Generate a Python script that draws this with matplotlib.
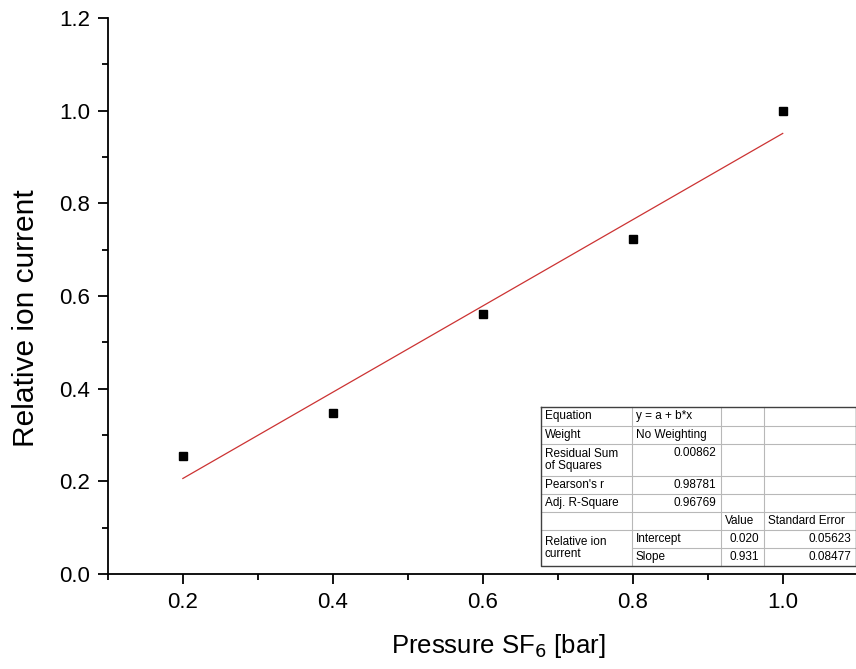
import matplotlib
matplotlib.use("Agg")
import matplotlib.pyplot as plt
from matplotlib.ticker import MultipleLocator
import numpy as np

plt.rcParams['font.family'] = ['Liberation Sans', 'DejaVu Sans']

pressure = [0.2, 0.4, 0.6, 0.8, 1.0]
ion_current = [0.255, 0.347, 0.561, 0.723, 1.0]

fit_intercept = 0.020
fit_slope = 0.931

table_rows = [
    ["Equation", "y = a + b*x", "", ""],
    ["Weight", "No Weighting", "", ""],
    ["Residual Sum\nof Squares", "0.00862", "", ""],
    ["Pearson's r", "0.98781", "", ""],
    ["Adj. R-Square", "0.96769", "", ""],
    ["", "", "Value", "Standard Error"],
    ["Relative ion\ncurrent", "Intercept", "0.020", "0.05623"],
    ["", "Slope", "0.931", "0.08477"],
]

fig = plt.figure(figsize=(8.56, 6.69), dpi=100)
ax = fig.add_axes([0.126, 0.142, 0.876, 0.831])

ax.plot(pressure, ion_current, 's', color='black', markersize=5.5, zorder=3)
xf = np.array([pressure[0], pressure[-1]])
ax.plot(xf, fit_intercept + fit_slope * xf, color='#cc3333', lw=0.9)

ax.set_xlim(0.1, 1.1)
ax.set_ylim(0.0, 1.2)
ax.xaxis.set_major_locator(MultipleLocator(0.2))
ax.xaxis.set_minor_locator(MultipleLocator(0.1))
ax.yaxis.set_major_locator(MultipleLocator(0.2))
ax.yaxis.set_minor_locator(MultipleLocator(0.1))
ax.xaxis.set_major_formatter(lambda v, p: f"{v:.1f}")
ax.yaxis.set_major_formatter(lambda v, p: f"{v:.1f}")
for s in ['top', 'right']:
    ax.spines[s].set_visible(False)
for s in ['left', 'bottom']:
    ax.spines[s].set_linewidth(1.3)
ax.tick_params(which='major', direction='out', length=7, width=1.3, labelsize=16, pad=6)
ax.tick_params(which='minor', direction='out', length=4, width=1.3)
ax.set_xlabel("Pressure SF$_6$ [bar]", fontsize=18.5)
ax.set_ylabel("Relative ion current", fontsize=21.5)
ax.xaxis.set_label_coords(0.52, -0.104)
ax.yaxis.set_label_coords(-0.091, 0.46)

# fit-results table, drawn in pixel space
tab = fig.add_axes([0, 0, 1, 1], facecolor='none')
tab.set_xlim(0, 856)
tab.set_ylim(669, 0)
tab.axis('off')
cols = [541, 632, 721, 764, 856]
rows = [407, 426, 444, 476, 494, 512, 530, 548, 566]
tab.add_patch(plt.Rectangle((cols[0], rows[0]), cols[-1] - cols[0], rows[-1] - rows[0],
                            facecolor='white', edgecolor='none', zorder=1))
grid = '#b8b8b8'
for c in cols[1:-1]:
    tab.plot([c, c], [rows[0], rows[-1]], color=grid, lw=0.8, zorder=2)
for i, r in enumerate(rows[1:-1], start=1):
    x0 = cols[1] if i == 7 else cols[0]
    tab.plot([x0, cols[-1]], [r, r], color=grid, lw=0.8, zorder=2)
tab.plot([cols[0], cols[-1], cols[-1], cols[0], cols[0]],
         [rows[0], rows[0], rows[-1], rows[-1], rows[0]], color='#404040', lw=1.0, zorder=3)

fs = 8.5
for i, row in enumerate(table_rows):
    top = rows[i]
    bot = rows[i + 1]
    for j, txt in enumerate(row):
        if not txt:
            continue
        ymid = (top + bot) / 2
        if i == 2 and j == 1:
            ymid = top + 9
        if i == 6 and j == 0:
            ymid = (rows[6] + rows[8]) / 2
        numeric = (j == 1 and i in (2, 3, 4)) or (j >= 2 and i >= 6)
        if numeric:
            tab.text(cols[j + 1] - 5, ymid, txt, ha='right', va='center', fontsize=fs, zorder=4)
        else:
            tab.text(cols[j] + 4, ymid, txt, ha='left', va='center', fontsize=fs,
                     linespacing=1.05, zorder=4)

fig.savefig("out.png", dpi=100)
